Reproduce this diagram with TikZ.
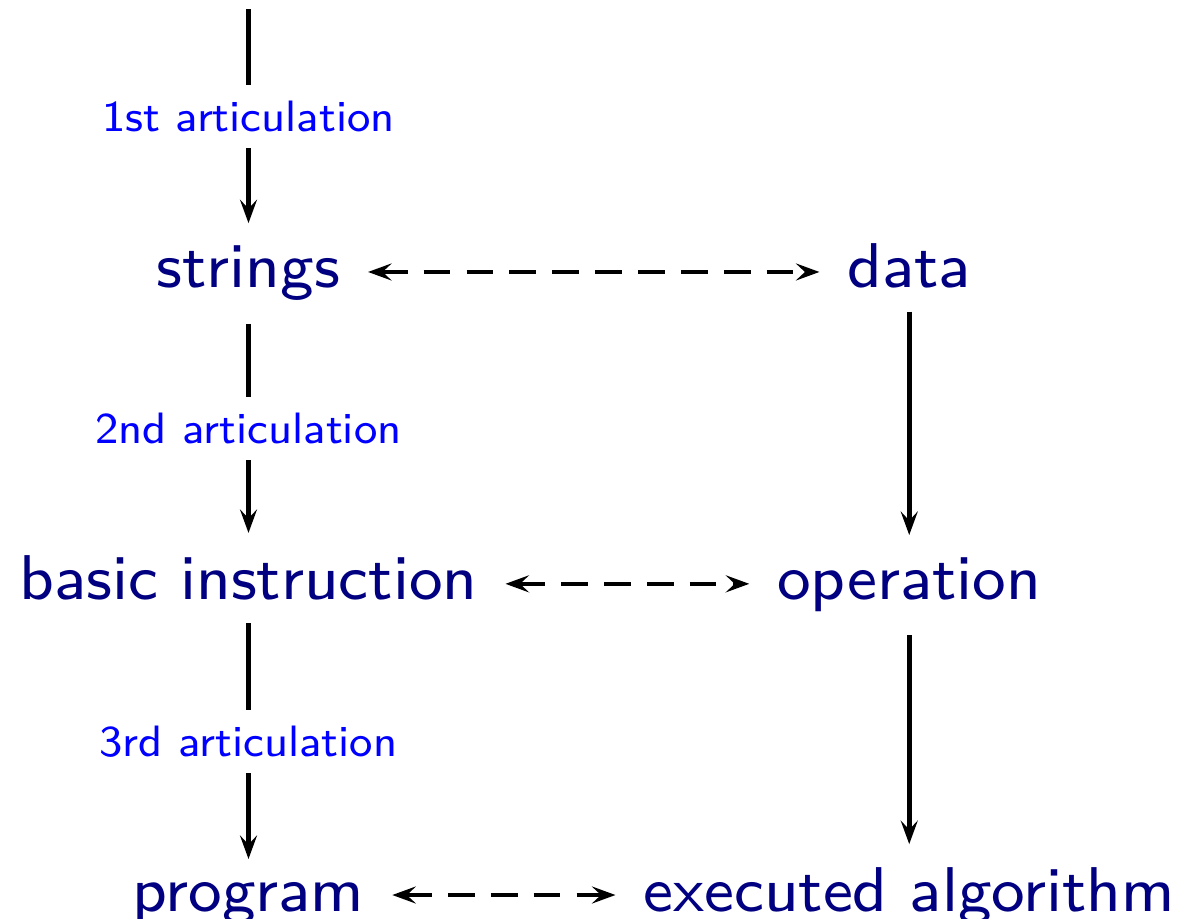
\documentclass[tikz,border=0pt]{standalone}
\usepackage{fontspec}
\setsansfont{lmsans8-regular.otf}
\usetikzlibrary{matrix,arrows.meta}

\definecolor{termblue}{RGB}{0,0,128}
\tikzset{
  tip/.tip={Stealth[length=2.35mm,width=1.7mm,inset=0.9mm]},
  arr/.style={-tip, line width=1.3pt},
  dasharr/.style={tip-tip, line width=1.3pt, dash pattern=on 7.6pt off 4.6pt},
  artic/.style={text=blue, fill=white, inner sep=0.16cm,
    font=\sffamily\fontsize{12.5}{15}\selectfont}
}

\begin{document}
\begin{tikzpicture}
\useasboundingbox (0,0) rectangle (11.82,9.19);

\matrix (m) [matrix of nodes, matrix anchor=m-1-1.base, inner sep=0,
column sep=1.1cm, row sep=2.09cm,
nodes={anchor=base, text=termblue, inner xsep=0.28cm, inner ysep=0.23cm,
  outer sep=0, font=\sffamily\fontsize{18}{22}\selectfont}]
at (2.485,6.31) {
strings            &data\\
basic instruction  &operation\\
program            &executed algorithm\\
};

\coordinate (in) at ([yshift=2.14cm]m-1-1.north);

% articulations down the left column
\draw[arr] (in) -- node[artic] {1st articulation} (m-1-1);
\draw[arr] (m-1-1) -- node[artic] {2nd articulation} (m-2-1);
\draw[arr] (m-2-1) -- node[artic] {3rd articulation} (m-3-1);

\foreach \r/\s in {1/2, 2/3} {
\draw[arr] (m-\r-2) -- (m-\s-2);
};

\foreach \r in {1, 2, 3} {
\draw[dasharr] ([yshift=0.16cm]m-\r-1.base east) -- ([yshift=0.16cm]m-\r-2.base west);
};

\end{tikzpicture}
\end{document}
